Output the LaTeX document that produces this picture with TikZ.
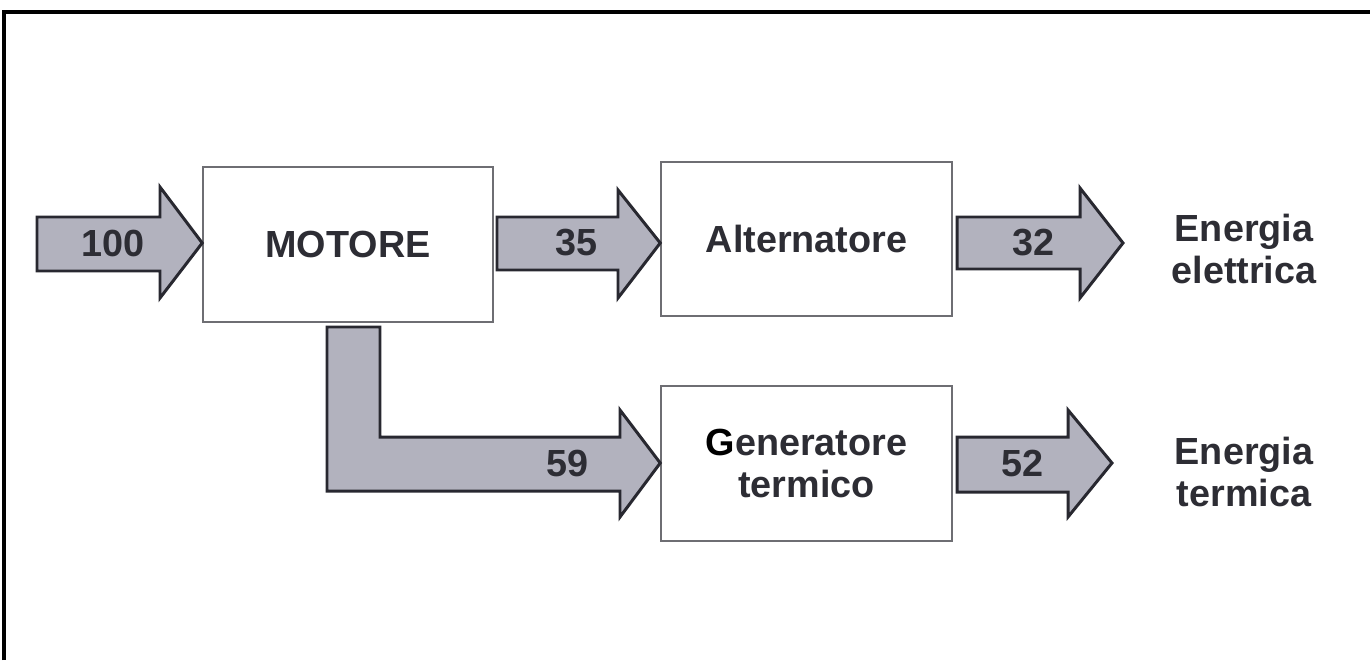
\documentclass[tikz,border=0pt]{standalone}
\usepackage{fontspec}
\setmainfont{Liberation Sans}
\usepackage{xcolor}
\usepackage{tikz}
\usetikzlibrary{positioning,calc}
\definecolor{flowfill}{RGB}{178,178,190}
\definecolor{flowline}{RGB}{40,40,48}
\definecolor{inktext}{RGB}{45,45,52}
\definecolor{boxline}{RGB}{110,110,115}

\begin{document}
\begin{tikzpicture}[
  x=0.02cm,y=-0.02cm,
  font=\bfseries\fontsize{21.5}{24}\selectfont,
  %--- node styles ---
  blockbox/.style={draw=boxline,line width=0.9pt,fill=white,text=inktext,
                   align=center,inner sep=0pt},
  num/.style     ={text=inktext,inner sep=0pt},
  outtext/.style ={text=inktext,align=center,inner sep=0pt},
  %--- arrow styles ---
  flow/.style    ={draw=flowline,line width=1.7pt,fill=flowfill,line join=miter},
  frame/.style   ={draw=black,line width=1.8pt},
]
\useasboundingbox (0,0) rectangle (1370,660);

%==================== frame ====================
\draw[frame] (4,660) -- (4,12) -- (1370,12);

%==================== blocks ====================
\node[blockbox,minimum width=5.8cm,minimum height=3.1cm]  (mot) at (348,244.5) {MOTORE};
\node[blockbox,minimum width=5.82cm,minimum height=3.08cm] (alt) at (806.5,239) {Alternatore};
\node[blockbox,minimum width=5.82cm,minimum height=3.1cm]  (gen) at (806.5,463.5)
  {{\color{black}G}eneratore\\termico};

%==================== outputs ====================
\node[outtext] (elet) at (1244,249) {Energia\\elettrica};
\node[outtext] (term) at (1244,472) {Energia\\termica};

%==================== flow arrows ====================
\draw[flow] (37,217) -- (160,217) -- (160,187) -- (mot.west |- 0,243)
   -- (160,298) -- (160,271) -- (37,271) -- cycle;
\draw[flow] (497,217) -- (618,217) -- (618,190) -- (alt.west |- 0,243)
   -- (618,298) -- (618,270) -- (497,270) -- cycle;
\draw[flow] (957,217) -- (1080,217) -- (1080,188) -- (1123,243)
   -- (1080,298) -- (1080,269) -- (957,269) -- cycle;
% bent branch: down out of the motor, then right into the heat generator
\draw[flow] (327,327) -- (380,327) -- (380,437) -- (620,437) -- (620,410)
   -- (gen.west |- 0,463) -- (620,517) -- (620,491) -- (327,491) -- cycle;
\draw[flow] (957,437) -- (1068,437) -- (1068,410) -- (1112,463)
   -- (1068,517) -- (1068,492) -- (957,492) -- cycle;

%==================== flow values ====================
\node[num] (n100) at (113,243) {100};
\node[num] (n35)  at (577,243) {35};
\node[num] (n32)  at (1033,243) {32};
\node[num] (n59)  at (568,463) {59};
\node[num] (n52)  at (1022,463) {52};

\end{tikzpicture}
\end{document}
